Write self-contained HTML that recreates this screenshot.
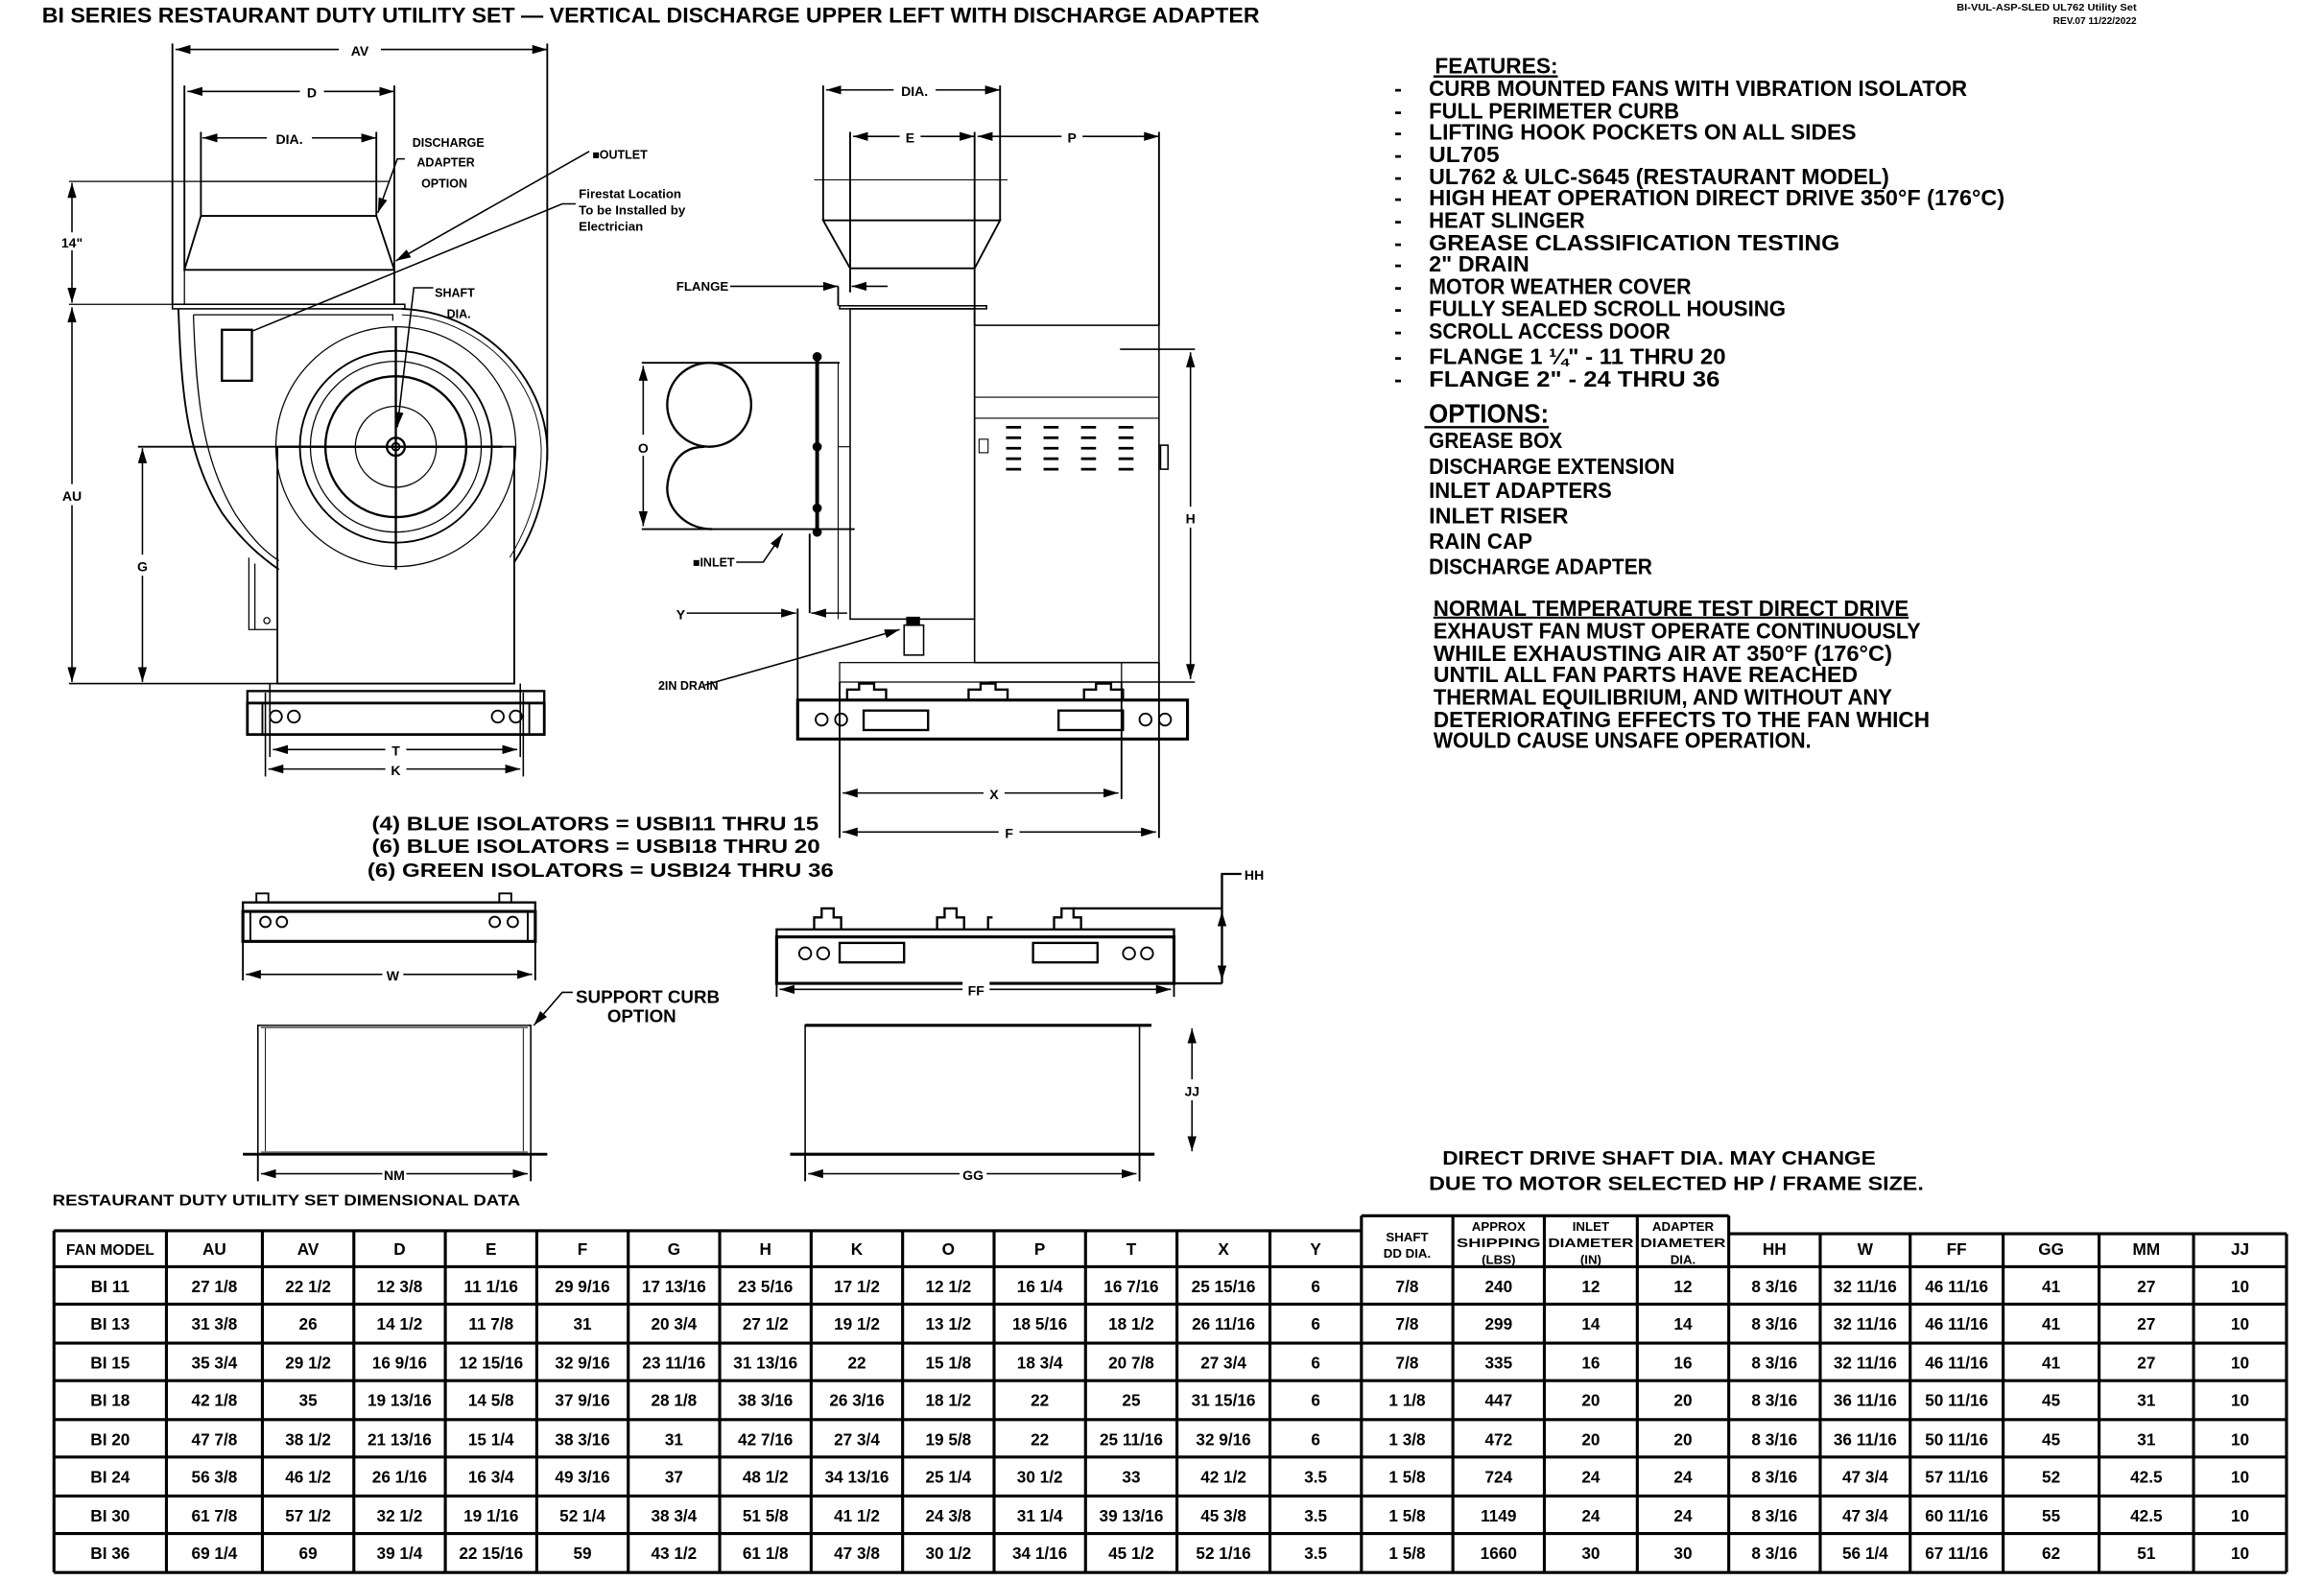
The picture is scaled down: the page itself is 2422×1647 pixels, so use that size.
<!DOCTYPE html>
<html><head><meta charset="utf-8"><style>
html,body{margin:0;padding:0;background:#fff}
svg{display:block}
text{font-family:"Liberation Sans Narrow","Liberation Sans",sans-serif;font-weight:bold;fill:#000}
.t{font-size:11px}
.f{font-size:15px}
.s{font-size:9px}
</style></head><body>
<svg width="2422" height="1647" viewBox="0 0 1550 1054" preserveAspectRatio="none" xmlns="http://www.w3.org/2000/svg">
<defs>
<marker id="a" markerWidth="10" markerHeight="6" refX="10" refY="3" orient="auto-start-reverse" markerUnits="userSpaceOnUse"><path d="M0,0 L10,3 L0,6 Z" fill="#000"/></marker>
</defs>
<rect width="1550" height="1054" fill="#fff"/>
<!-- Title -->
<text x="28" y="15" font-size="14" textLength="812" lengthAdjust="spacingAndGlyphs">BI SERIES RESTAURANT DUTY UTILITY SET — VERTICAL DISCHARGE UPPER LEFT WITH DISCHARGE ADAPTER</text>
<text x="1305" y="7" font-size="6.5" textLength="120" lengthAdjust="spacingAndGlyphs">BI-VUL-ASP-SLED UL762 Utility Set</text>
<text x="1425" y="16" font-size="6.5" text-anchor="end">REV.07 11/22/2022</text>

<!-- Features -->
<g class="f">
<text x="957" y="49" textLength="82" lengthAdjust="spacingAndGlyphs">FEATURES:</text>
<line x1="956" y1="51" x2="1039" y2="51" stroke="#000" stroke-width="1.5"/>
<text x="930" y="64">-</text><text x="953" y="64" textLength="359" lengthAdjust="spacingAndGlyphs">CURB MOUNTED FANS WITH VIBRATION ISOLATOR</text>
<text x="930" y="79">-</text><text x="953" y="79" textLength="167" lengthAdjust="spacingAndGlyphs">FULL PERIMETER CURB</text>
<text x="930" y="93">-</text><text x="953" y="93" textLength="285" lengthAdjust="spacingAndGlyphs">LIFTING HOOK POCKETS ON ALL SIDES</text>
<text x="930" y="108">-</text><text x="953" y="108" textLength="47" lengthAdjust="spacingAndGlyphs">UL705</text>
<text x="930" y="123">-</text><text x="953" y="123" textLength="307" lengthAdjust="spacingAndGlyphs">UL762 &amp; ULC-S645 (RESTAURANT MODEL)</text>
<text x="930" y="137">-</text><text x="953" y="137" textLength="384" lengthAdjust="spacingAndGlyphs">HIGH HEAT OPERATION DIRECT DRIVE 350°F (176°C)</text>
<text x="930" y="152">-</text><text x="953" y="152" textLength="104" lengthAdjust="spacingAndGlyphs">HEAT SLINGER</text>
<text x="930" y="167">-</text><text x="953" y="167" textLength="274" lengthAdjust="spacingAndGlyphs">GREASE CLASSIFICATION TESTING</text>
<text x="930" y="181">-</text><text x="953" y="181" textLength="67" lengthAdjust="spacingAndGlyphs">2" DRAIN</text>
<text x="930" y="196">-</text><text x="953" y="196" textLength="175" lengthAdjust="spacingAndGlyphs">MOTOR WEATHER COVER</text>
<text x="930" y="211">-</text><text x="953" y="211" textLength="238" lengthAdjust="spacingAndGlyphs">FULLY SEALED SCROLL HOUSING</text>
<text x="930" y="226">-</text><text x="953" y="226" textLength="161" lengthAdjust="spacingAndGlyphs">SCROLL ACCESS DOOR</text>
<text x="930" y="243">-</text><text x="953" y="243" textLength="198" lengthAdjust="spacingAndGlyphs">FLANGE 1 ¼" - 11 THRU 20</text>
<text x="930" y="258">-</text><text x="953" y="258" textLength="194" lengthAdjust="spacingAndGlyphs">FLANGE 2" - 24 THRU 36</text>
<text x="953" y="282" font-size="18" textLength="80" lengthAdjust="spacingAndGlyphs">OPTIONS:</text>
<line x1="950" y1="285" x2="1033" y2="285" stroke="#000" stroke-width="1.5"/>
<text x="953" y="299" textLength="89" lengthAdjust="spacingAndGlyphs">GREASE BOX</text>
<text x="953" y="316" textLength="164" lengthAdjust="spacingAndGlyphs">DISCHARGE EXTENSION</text>
<text x="953" y="332" textLength="122" lengthAdjust="spacingAndGlyphs">INLET ADAPTERS</text>
<text x="953" y="349" textLength="93" lengthAdjust="spacingAndGlyphs">INLET RISER</text>
<text x="953" y="366" textLength="69" lengthAdjust="spacingAndGlyphs">RAIN CAP</text>
<text x="953" y="383" textLength="149" lengthAdjust="spacingAndGlyphs">DISCHARGE ADAPTER</text>
<text x="956" y="411" textLength="317" lengthAdjust="spacingAndGlyphs">NORMAL TEMPERATURE TEST DIRECT DRIVE</text>
<line x1="956" y1="412" x2="1273" y2="412" stroke="#000" stroke-width="1.3"/>
<text x="956" y="426" textLength="325" lengthAdjust="spacingAndGlyphs">EXHAUST FAN MUST OPERATE CONTINUOUSLY</text>
<text x="956" y="441" textLength="306" lengthAdjust="spacingAndGlyphs">WHILE EXHAUSTING AIR AT 350°F (176°C)</text>
<text x="956" y="455" textLength="283" lengthAdjust="spacingAndGlyphs">UNTIL ALL FAN PARTS HAVE REACHED</text>
<text x="956" y="470" textLength="306" lengthAdjust="spacingAndGlyphs">THERMAL EQUILIBRIUM, AND WITHOUT ANY</text>
<text x="956" y="485" textLength="331" lengthAdjust="spacingAndGlyphs">DETERIORATING EFFECTS TO THE FAN WHICH</text>
<text x="956" y="499" textLength="252" lengthAdjust="spacingAndGlyphs">WOULD CAUSE UNSAFE OPERATION.</text>
<text x="962" y="777" font-size="13" textLength="289" lengthAdjust="spacingAndGlyphs">DIRECT DRIVE SHAFT DIA. MAY CHANGE</text>
<text x="953" y="794" font-size="13" textLength="330" lengthAdjust="spacingAndGlyphs">DUE TO MOTOR SELECTED HP / FRAME SIZE.</text>
<text x="248" y="554" font-size="13" textLength="298" lengthAdjust="spacingAndGlyphs">(4) BLUE ISOLATORS = USBI11 THRU 15</text>
<text x="248" y="569" font-size="13" textLength="299" lengthAdjust="spacingAndGlyphs">(6) BLUE ISOLATORS = USBI18 THRU 20</text>
<text x="245" y="585" font-size="13" textLength="311" lengthAdjust="spacingAndGlyphs">(6) GREEN ISOLATORS = USBI24 THRU 36</text>
</g>

<!-- LEFT DRAWING -->
<g stroke="#000" fill="none" stroke-width="1.2">
<line x1="117" y1="33" x2="365" y2="33" marker-start="url(#a)" marker-end="url(#a)" stroke-width="1"/>
<line x1="115" y1="29" x2="115" y2="203"/><line x1="365" y1="29" x2="365" y2="307"/>
<line x1="125" y1="61" x2="263" y2="61" marker-start="url(#a)" marker-end="url(#a)" stroke-width="1"/>
<line x1="123" y1="57" x2="123" y2="180"/><line x1="263" y1="57" x2="263" y2="203"/>
<line x1="135" y1="92" x2="251" y2="92" marker-start="url(#a)" marker-end="url(#a)" stroke-width="1"/>
<line x1="134" y1="88" x2="134" y2="144"/><line x1="251" y1="88" x2="251" y2="144"/>
<line x1="46" y1="121" x2="259" y2="121" stroke-width="0.8"/>
<line x1="48" y1="122" x2="48" y2="202" marker-start="url(#a)" marker-end="url(#a)" stroke-width="1"/>
<line x1="46" y1="203" x2="115" y2="203" stroke-width="0.8"/>
<line x1="48" y1="205" x2="48" y2="455" marker-start="url(#a)" marker-end="url(#a)" stroke-width="1"/>
<line x1="46" y1="456" x2="185" y2="456" stroke-width="1"/>
<line x1="95" y1="299" x2="95" y2="455" marker-start="url(#a)" marker-end="url(#a)" stroke-width="1"/>
<line x1="92" y1="298" x2="185" y2="298"/>
<rect x="134" y="121" width="117" height="23" stroke-width="0.8"/>
<path d="M134,144 L123,180 L263,180 L251,144"/>
<line x1="134" y1="144" x2="251" y2="144"/>
<rect x="123" y="180" width="140" height="23" stroke-width="0.8"/>
<rect x="115" y="203" width="155" height="3" stroke-width="1"/>
<path d="M119,206 C121,265 125,305 148,342 C162,362 175,372 186,380"/>
<path d="M129,210 L262,210 L262,214 M129,210 C131,270 136,308 157,343 C169,361 178,369 186,374" stroke-width="0.8"/>
<path d="M268,206 C320,208 364,250 365,300 C365,330 356,355 343,375"/>
<path d="M268,210 C318,212 360,252 361,300 C361,328 352,352 340,372" stroke-width="0.6"/>
<rect x="148" y="220" width="20" height="34" stroke-width="1.5"/>
<!-- pedestal (behind wheel) -->
<rect x="185" y="298" width="158" height="158"/>
<!-- wheel -->
<circle cx="264" cy="298" r="80" stroke-width="0.8"/>
<circle cx="264" cy="298" r="64"/>
<circle cx="264" cy="298" r="57" stroke-width="0.8"/>
<circle cx="264" cy="298" r="47" stroke-width="1.5"/>
<circle cx="264" cy="298" r="27" stroke-width="0.8"/>
<circle cx="264" cy="298" r="6" stroke-width="1.5"/>
<circle cx="264" cy="298" r="2.5"/>
<line x1="186" y1="298" x2="335" y2="298" stroke-width="1.5"/>
<line x1="264" y1="218" x2="264" y2="380" stroke-width="1.5"/>
<path d="M166,372 L166,420 L185,420 M170,376 L170,420" stroke-width="0.8"/>
<circle cx="178" cy="414" r="2" stroke-width="0.8"/>
<rect x="165" y="461" width="198" height="8" stroke-width="1.5"/>
<rect x="165" y="469" width="198" height="21" stroke-width="1.8"/>
<line x1="175" y1="469" x2="175" y2="490"/><line x1="353" y1="469" x2="353" y2="490"/>
<circle cx="184" cy="478" r="4"/><circle cx="196" cy="478" r="4"/>
<circle cx="332" cy="478" r="4"/><circle cx="344" cy="478" r="4"/>
<line x1="180" y1="456" x2="180" y2="505" stroke-width="1"/><line x1="347" y1="456" x2="347" y2="505" stroke-width="1"/>
<line x1="177" y1="462" x2="177" y2="518" stroke-width="1"/><line x1="349" y1="462" x2="349" y2="518" stroke-width="1"/>
<line x1="182" y1="500" x2="345" y2="500" marker-start="url(#a)" marker-end="url(#a)" stroke-width="1"/>
<line x1="179" y1="513" x2="347" y2="513" marker-start="url(#a)" marker-end="url(#a)" stroke-width="1"/>
<path d="M270,106 L265,106 L252,142" marker-end="url(#a)" stroke-width="1"/>
<path d="M393,101 L264,174" marker-end="url(#a)" stroke-width="1"/>
<path d="M384,136 L375,136 L168,221" stroke-width="1"/>
<path d="M289,192 L276,192 L265,285" marker-end="url(#a)" stroke-width="1"/>
</g>
<g fill="#fff">
<rect x="226" y="27" width="28" height="12"/><rect x="200" y="55" width="16" height="12"/><rect x="178" y="86" width="30" height="12"/>
<rect x="38" y="155" width="20" height="12"/><rect x="40" y="323" width="16" height="14"/><rect x="88" y="370" width="14" height="14"/>
<rect x="257" y="494" width="14" height="12"/><rect x="257" y="507" width="14" height="12"/>
</g>
<g class="s">
<text x="240" y="37" text-anchor="middle">AV</text>
<text x="208" y="65" text-anchor="middle">D</text>
<text x="193" y="96" text-anchor="middle">DIA.</text>
<text x="48" y="165" text-anchor="middle">14"</text>
<text x="48" y="334" text-anchor="middle">AU</text>
<text x="95" y="381" text-anchor="middle">G</text>
<text x="264" y="504" text-anchor="middle">T</text>
<text x="264" y="517" text-anchor="middle">K</text>
<text x="275" y="98" font-size="8">DISCHARGE</text>
<text x="278" y="111" font-size="8">ADAPTER</text>
<text x="281" y="125" font-size="8">OPTION</text>
<text x="395" y="106" font-size="8">■OUTLET</text>
<text x="386" y="132" font-size="8.5">Firestat Location</text>
<text x="386" y="143" font-size="8.5">To be Installed by</text>
<text x="386" y="154" font-size="8.5">Electrician</text>
<text x="290" y="198" font-size="8">SHAFT</text>
<text x="298" y="212" font-size="8">DIA.</text>
</g>

<!-- RIGHT DRAWING -->
<g stroke="#000" fill="none" stroke-width="1.2">
<line x1="551" y1="60" x2="667" y2="60" marker-start="url(#a)" marker-end="url(#a)" stroke-width="1"/>
<line x1="549" y1="57" x2="549" y2="147"/><line x1="667" y1="57" x2="667" y2="147"/>
<line x1="569" y1="91" x2="650" y2="91" marker-start="url(#a)" marker-end="url(#a)" stroke-width="1"/>
<line x1="652" y1="91" x2="773" y2="91" marker-start="url(#a)" marker-end="url(#a)" stroke-width="1"/>
<line x1="567" y1="88" x2="567" y2="195"/><line x1="650" y1="88" x2="650" y2="217"/><line x1="773" y1="88" x2="773" y2="217"/>
<line x1="543" y1="120" x2="672" y2="120" stroke-width="0.6"/>
<path d="M549,147 L567,179 L650,179 L667,147 Z"/>
<line x1="487" y1="191" x2="559" y2="191" marker-end="url(#a)" stroke-width="1"/>
<line x1="592" y1="191" x2="568" y2="191" marker-end="url(#a)" stroke-width="1"/>
<path d="M559,191 L559,204"/>
<rect x="560" y="204" width="98" height="2" stroke-width="1"/>
<rect x="567" y="206" width="83" height="207" stroke-width="1"/>
<rect x="650" y="217" width="123" height="225" stroke-width="1"/>
<line x1="650" y1="265" x2="773" y2="265" stroke-width="0.7"/>
<line x1="650" y1="279" x2="773" y2="279" stroke-width="0.7"/>
<line x1="567" y1="413" x2="650" y2="413" stroke-width="0.7"/>
<g stroke-width="1.8">
<path d="M671,285h10M671,292h10M671,299h10M671,306h10M671,313h10"/>
<path d="M696,285h10M696,292h10M696,299h10M696,306h10M696,313h10"/>
<path d="M721,285h10M721,292h10M721,299h10M721,306h10M721,313h10"/>
<path d="M746,285h10M746,292h10M746,299h10M746,306h10M746,313h10"/>
</g>
<rect x="774" y="297" width="5" height="16" stroke-width="1"/>
<rect x="653" y="293" width="6" height="9" stroke-width="0.7"/>
<line x1="747" y1="233" x2="797" y2="233" stroke-width="1"/>
<line x1="660" y1="455" x2="797" y2="455" stroke-width="1"/>
<line x1="794" y1="235" x2="794" y2="453" marker-start="url(#a)" marker-end="url(#a)" stroke-width="1"/>
<line x1="428" y1="242" x2="560" y2="242"/><line x1="428" y1="353" x2="570" y2="353"/>
<line x1="429" y1="244" x2="429" y2="351" marker-start="url(#a)" marker-end="url(#a)" stroke-width="1"/>
<circle cx="473" cy="270" r="28" stroke-width="1.5"/>
<path d="M470,298 C446,298 445,324 445,326 C445,340 458,353 475,353" stroke-width="1.5"/>
<line x1="545" y1="237" x2="545" y2="356" stroke-width="2.5"/>
<line x1="540" y1="356" x2="540" y2="409"/>
<circle cx="545" cy="238" r="2.5" fill="#000"/><circle cx="545" cy="298" r="2.5" fill="#000"/><circle cx="545" cy="339" r="2.5" fill="#000"/><circle cx="545" cy="355" r="2.5" fill="#000"/>
<path d="M559,242 L559,413 M559,298 L567,298" stroke-width="0.7"/>
<path d="M491,375 L509,375 L522,356" marker-end="url(#a)" stroke-width="1"/>
<line x1="458" y1="409" x2="531" y2="409" marker-end="url(#a)" stroke-width="1"/>
<line x1="565" y1="409" x2="541" y2="409" marker-end="url(#a)" stroke-width="1"/>
<line x1="532" y1="406" x2="532" y2="492"/>
<rect x="603" y="417" width="13" height="20" stroke-width="1"/><rect x="605" y="412" width="8" height="5" fill="#000"/>
<path d="M470,457 L600,420" marker-end="url(#a)" stroke-width="1"/>
<rect x="560" y="442" width="188" height="13" stroke-width="0.8"/>
<path d="M565,467 L565,460 L573,460 L573,456 L583,456 L583,460 L591,460 L591,467 M646,467 L646,460 L654,460 L654,456 L664,456 L664,460 L672,460 L672,467 M723,467 L723,460 L731,460 L731,456 L741,456 L741,460 L749,460 L749,467" stroke-width="1.5"/>
<rect x="532" y="467" width="260" height="26" stroke-width="2"/>
<circle cx="548" cy="480" r="4"/><circle cx="561" cy="480" r="4"/><circle cx="764" cy="480" r="4"/><circle cx="777" cy="480" r="4"/>
<rect x="576" y="474" width="43" height="13" stroke-width="1.5"/><rect x="706" y="474" width="43" height="13" stroke-width="1.5"/>
<line x1="560" y1="455" x2="560" y2="533"/><line x1="748" y1="455" x2="748" y2="533"/>
<line x1="773" y1="442" x2="773" y2="559"/><line x1="560" y1="533" x2="560" y2="559"/>
<line x1="562" y1="529" x2="746" y2="529" marker-start="url(#a)" marker-end="url(#a)" stroke-width="1"/>
<line x1="562" y1="555" x2="771" y2="555" marker-start="url(#a)" marker-end="url(#a)" stroke-width="1"/>
</g>
<g fill="#fff"><rect x="596" y="54" width="28" height="12"/><rect x="600" y="85" width="14" height="12"/><rect x="708" y="85" width="14" height="12"/><rect x="423" y="290" width="12" height="14"/><rect x="787" y="338" width="14" height="14"/><rect x="656" y="523" width="14" height="12"/><rect x="666" y="549" width="14" height="12"/></g>
<g class="s">
<text x="610" y="64" text-anchor="middle">DIA.</text>
<text x="607" y="95" text-anchor="middle">E</text>
<text x="715" y="95" text-anchor="middle">P</text>
<text x="429" y="302" text-anchor="middle">O</text>
<text x="794" y="349" text-anchor="middle">H</text>
<text x="663" y="533" text-anchor="middle">X</text>
<text x="673" y="559" text-anchor="middle">F</text>
<text x="451" y="194" font-size="8.5">FLANGE</text>
<text x="462" y="378" font-size="8">■INLET</text>
<text x="451" y="413">Y</text>
<text x="439" y="460" font-size="8">2IN DRAIN</text>
</g>

<!-- BOTTOM DRAWINGS -->
<g stroke="#000" fill="none" stroke-width="1.2">
<path d="M171,602 L171,596 L179,596 L179,602 M333,602 L333,596 L341,596 L341,602" stroke-width="1.2"/>
<rect x="162" y="602" width="195" height="6" stroke-width="1.5"/>
<rect x="162" y="608" width="195" height="20" stroke-width="2"/>
<line x1="167" y1="608" x2="167" y2="628"/><line x1="352" y1="608" x2="352" y2="628"/>
<circle cx="177" cy="615" r="3.5"/><circle cx="188" cy="615" r="3.5"/><circle cx="330" cy="615" r="3.5"/><circle cx="342" cy="615" r="3.5"/>
<line x1="162" y1="628" x2="162" y2="654"/><line x1="357" y1="628" x2="357" y2="654"/>
<line x1="164" y1="650" x2="355" y2="650" marker-start="url(#a)" marker-end="url(#a)" stroke-width="1"/>
<rect x="172" y="684" width="182" height="86" stroke-width="1"/>
<line x1="174" y1="685" x2="352" y2="685" stroke="#777" stroke-width="2"/>
<line x1="174" y1="769" x2="352" y2="769" stroke="#777" stroke-width="2"/>
<line x1="177" y1="686" x2="177" y2="768" stroke-width="0.6"/><line x1="349" y1="686" x2="349" y2="768" stroke-width="0.6"/>
<line x1="162" y1="770" x2="365" y2="770" stroke-width="1.8"/>
<line x1="172" y1="770" x2="172" y2="788"/><line x1="354" y1="770" x2="354" y2="788"/>
<line x1="174" y1="783" x2="352" y2="783" marker-start="url(#a)" marker-end="url(#a)" stroke-width="1"/>
<path d="M382,662 L375,662 L356,684" marker-end="url(#a)" stroke-width="1"/>
<path d="M543,620 L543,612 L548,612 L548,606 L556,606 L556,612 L561,612 L561,620 M625,620 L625,612 L630,612 L630,606 L638,606 L638,612 L643,612 L643,620 M703,620 L703,612 L708,612 L708,606 L716,606 L716,612 L721,612 L721,620 M659,620 L659,612 L662,612" stroke-width="1.5"/>
<rect x="518" y="620" width="265" height="5" stroke-width="1.5"/>
<rect x="518" y="625" width="265" height="31" stroke-width="2"/>
<circle cx="537" cy="636" r="4"/><circle cx="549" cy="636" r="4"/><circle cx="753" cy="636" r="4"/><circle cx="765" cy="636" r="4"/>
<rect x="560" y="629" width="43" height="13" stroke-width="1.5"/><rect x="689" y="629" width="43" height="13" stroke-width="1.5"/>
<line x1="716" y1="606" x2="815" y2="606" stroke-width="1.5"/>
<line x1="783" y1="656" x2="815" y2="656" stroke-width="1.5"/>
<path d="M828,583 L815,583 L815,656" stroke-width="1.5"/>
<line x1="815" y1="608" x2="815" y2="654" marker-start="url(#a)" marker-end="url(#a)" stroke-width="1"/>
<line x1="518" y1="656" x2="518" y2="665"/><line x1="783" y1="656" x2="783" y2="665"/>
<line x1="520" y1="660" x2="781" y2="660" marker-start="url(#a)" marker-end="url(#a)" stroke-width="1"/>
<line x1="537" y1="684" x2="768" y2="684" stroke-width="2"/>
<rect x="537" y="684" width="223" height="86" stroke-width="1"/>
<line x1="527" y1="770" x2="770" y2="770" stroke-width="2"/>
<line x1="537" y1="770" x2="537" y2="788"/><line x1="760" y1="770" x2="760" y2="788"/>
<line x1="539" y1="783" x2="758" y2="783" marker-start="url(#a)" marker-end="url(#a)" stroke-width="1"/>
<line x1="795" y1="686" x2="795" y2="768" marker-start="url(#a)" marker-end="url(#a)" stroke-width="1"/>
</g>
<g fill="#fff"><rect x="255" y="644" width="14" height="12"/><rect x="642" y="654" width="18" height="12"/><rect x="255" y="777" width="16" height="12"/><rect x="640" y="777" width="18" height="12"/><rect x="788" y="720" width="14" height="14"/></g>
<g class="s">
<text x="262" y="654" text-anchor="middle">W</text>
<text x="651" y="664" text-anchor="middle">FF</text>
<text x="263" y="787" text-anchor="middle">NM</text>
<text x="649" y="787" text-anchor="middle">GG</text>
<text x="795" y="731" text-anchor="middle">JJ</text>
<text x="830" y="587">HH</text>
<text x="384" y="669" font-size="12">SUPPORT CURB</text>
<text x="405" y="682" font-size="12">OPTION</text>
</g>

<!-- TABLE -->
<text x="35" y="804" font-size="10" textLength="312" lengthAdjust="spacingAndGlyphs">RESTAURANT DUTY UTILITY SET DIMENSIONAL DATA</text>
<g stroke="#000" stroke-width="2" fill="none">
<line x1="36" y1="821" x2="908" y2="821"/>
<line x1="908" y1="811" x2="1153" y2="811"/>
<line x1="1153" y1="823" x2="1525" y2="823"/>
<line x1="36" y1="845" x2="1525" y2="845"/>
<line x1="36" y1="870" x2="1525" y2="870"/>
<line x1="36" y1="896" x2="1525" y2="896"/>
<line x1="36" y1="921" x2="1525" y2="921"/>
<line x1="36" y1="947" x2="1525" y2="947"/>
<line x1="36" y1="972" x2="1525" y2="972"/>
<line x1="36" y1="998" x2="1525" y2="998"/>
<line x1="36" y1="1023" x2="1525" y2="1023"/>
<line x1="36" y1="1049" x2="1525" y2="1049"/>
<path d="M36,821V1049M111,821V1049M175,821V1049M236,821V1049M297,821V1049M358,821V1049M419,821V1049M480,821V1049M541,821V1049M602,821V1049M663,821V1049M724,821V1049M785,821V1049M847,821V1049M908,811V1049M969,811V1049M1030,811V1049M1092,811V1049M1153,811V1049M1214,823V1049M1274,823V1049M1336,823V1049M1400,823V1049M1463,823V1049M1525,823V1049"/>
</g>
<g class="t" text-anchor="middle">
<g transform="translate(0,837)">
<text x="73.5" font-size="10">FAN MODEL</text><text x="143">AU</text><text x="205.5">AV</text><text x="266.5">D</text><text x="327.5">E</text><text x="388.5">F</text><text x="449.5">G</text><text x="510.5">H</text><text x="571.5">K</text><text x="632.5">O</text><text x="693.5">P</text><text x="754.5">T</text><text x="816">X</text><text x="877.5">Y</text>
<text x="1183.5">HH</text><text x="1244">W</text><text x="1305">FF</text><text x="1368">GG</text><text x="1431.5">MM</text><text x="1494">JJ</text>
</g>
<g font-size="8.5">
<text x="938.5" y="828">SHAFT</text><text x="938.5" y="839">DD DIA.</text>
<text x="999.5" y="821">APPROX</text><text x="999.5" y="832" textLength="56" lengthAdjust="spacingAndGlyphs">SHIPPING</text><text x="999.5" y="843">(LBS)</text>
<text x="1061" y="821">INLET</text><text x="1061" y="832" textLength="57" lengthAdjust="spacingAndGlyphs">DIAMETER</text><text x="1061" y="843">(IN)</text>
<text x="1122.5" y="821">ADAPTER</text><text x="1122.5" y="832" textLength="57" lengthAdjust="spacingAndGlyphs">DIAMETER</text><text x="1122.5" y="843">DIA.</text>
</g>
<g transform="translate(0,862)"><text x="73.5">BI 11</text><text x="143">27 1/8</text><text x="205.5">22 1/2</text><text x="266.5">12 3/8</text><text x="327.5">11 1/16</text><text x="388.5">29 9/16</text><text x="449.5">17 13/16</text><text x="510.5">23 5/16</text><text x="571.5">17 1/2</text><text x="632.5">12 1/2</text><text x="693.5">16 1/4</text><text x="754.5">16 7/16</text><text x="816">25 15/16</text><text x="877.5">6</text><text x="938.5">7/8</text><text x="999.5">240</text><text x="1061">12</text><text x="1122.5">12</text><text x="1183.5">8 3/16</text><text x="1244">32 11/16</text><text x="1305">46 11/16</text><text x="1368">41</text><text x="1431.5">27</text><text x="1494">10</text></g>
<g transform="translate(0,887)"><text x="73.5">BI 13</text><text x="143">31 3/8</text><text x="205.5">26</text><text x="266.5">14 1/2</text><text x="327.5">11 7/8</text><text x="388.5">31</text><text x="449.5">20 3/4</text><text x="510.5">27 1/2</text><text x="571.5">19 1/2</text><text x="632.5">13 1/2</text><text x="693.5">18 5/16</text><text x="754.5">18 1/2</text><text x="816">26 11/16</text><text x="877.5">6</text><text x="938.5">7/8</text><text x="999.5">299</text><text x="1061">14</text><text x="1122.5">14</text><text x="1183.5">8 3/16</text><text x="1244">32 11/16</text><text x="1305">46 11/16</text><text x="1368">41</text><text x="1431.5">27</text><text x="1494">10</text></g>
<g transform="translate(0,913)"><text x="73.5">BI 15</text><text x="143">35 3/4</text><text x="205.5">29 1/2</text><text x="266.5">16 9/16</text><text x="327.5">12 15/16</text><text x="388.5">32 9/16</text><text x="449.5">23 11/16</text><text x="510.5">31 13/16</text><text x="571.5">22</text><text x="632.5">15 1/8</text><text x="693.5">18 3/4</text><text x="754.5">20 7/8</text><text x="816">27 3/4</text><text x="877.5">6</text><text x="938.5">7/8</text><text x="999.5">335</text><text x="1061">16</text><text x="1122.5">16</text><text x="1183.5">8 3/16</text><text x="1244">32 11/16</text><text x="1305">46 11/16</text><text x="1368">41</text><text x="1431.5">27</text><text x="1494">10</text></g>
<g transform="translate(0,938)"><text x="73.5">BI 18</text><text x="143">42 1/8</text><text x="205.5">35</text><text x="266.5">19 13/16</text><text x="327.5">14 5/8</text><text x="388.5">37 9/16</text><text x="449.5">28 1/8</text><text x="510.5">38 3/16</text><text x="571.5">26 3/16</text><text x="632.5">18 1/2</text><text x="693.5">22</text><text x="754.5">25</text><text x="816">31 15/16</text><text x="877.5">6</text><text x="938.5">1 1/8</text><text x="999.5">447</text><text x="1061">20</text><text x="1122.5">20</text><text x="1183.5">8 3/16</text><text x="1244">36 11/16</text><text x="1305">50 11/16</text><text x="1368">45</text><text x="1431.5">31</text><text x="1494">10</text></g>
<g transform="translate(0,964)"><text x="73.5">BI 20</text><text x="143">47 7/8</text><text x="205.5">38 1/2</text><text x="266.5">21 13/16</text><text x="327.5">15 1/4</text><text x="388.5">38 3/16</text><text x="449.5">31</text><text x="510.5">42 7/16</text><text x="571.5">27 3/4</text><text x="632.5">19 5/8</text><text x="693.5">22</text><text x="754.5">25 11/16</text><text x="816">32 9/16</text><text x="877.5">6</text><text x="938.5">1 3/8</text><text x="999.5">472</text><text x="1061">20</text><text x="1122.5">20</text><text x="1183.5">8 3/16</text><text x="1244">36 11/16</text><text x="1305">50 11/16</text><text x="1368">45</text><text x="1431.5">31</text><text x="1494">10</text></g>
<g transform="translate(0,989)"><text x="73.5">BI 24</text><text x="143">56 3/8</text><text x="205.5">46 1/2</text><text x="266.5">26 1/16</text><text x="327.5">16 3/4</text><text x="388.5">49 3/16</text><text x="449.5">37</text><text x="510.5">48 1/2</text><text x="571.5">34 13/16</text><text x="632.5">25 1/4</text><text x="693.5">30 1/2</text><text x="754.5">33</text><text x="816">42 1/2</text><text x="877.5">3.5</text><text x="938.5">1 5/8</text><text x="999.5">724</text><text x="1061">24</text><text x="1122.5">24</text><text x="1183.5">8 3/16</text><text x="1244">47 3/4</text><text x="1305">57 11/16</text><text x="1368">52</text><text x="1431.5">42.5</text><text x="1494">10</text></g>
<g transform="translate(0,1015)"><text x="73.5">BI 30</text><text x="143">61 7/8</text><text x="205.5">57 1/2</text><text x="266.5">32 1/2</text><text x="327.5">19 1/16</text><text x="388.5">52 1/4</text><text x="449.5">38 3/4</text><text x="510.5">51 5/8</text><text x="571.5">41 1/2</text><text x="632.5">24 3/8</text><text x="693.5">31 1/4</text><text x="754.5">39 13/16</text><text x="816">45 3/8</text><text x="877.5">3.5</text><text x="938.5">1 5/8</text><text x="999.5">1149</text><text x="1061">24</text><text x="1122.5">24</text><text x="1183.5">8 3/16</text><text x="1244">47 3/4</text><text x="1305">60 11/16</text><text x="1368">55</text><text x="1431.5">42.5</text><text x="1494">10</text></g>
<g transform="translate(0,1040)"><text x="73.5">BI 36</text><text x="143">69 1/4</text><text x="205.5">69</text><text x="266.5">39 1/4</text><text x="327.5">22 15/16</text><text x="388.5">59</text><text x="449.5">43 1/2</text><text x="510.5">61 1/8</text><text x="571.5">47 3/8</text><text x="632.5">30 1/2</text><text x="693.5">34 1/16</text><text x="754.5">45 1/2</text><text x="816">52 1/16</text><text x="877.5">3.5</text><text x="938.5">1 5/8</text><text x="999.5">1660</text><text x="1061">30</text><text x="1122.5">30</text><text x="1183.5">8 3/16</text><text x="1244">56 1/4</text><text x="1305">67 11/16</text><text x="1368">62</text><text x="1431.5">51</text><text x="1494">10</text></g>
</g>
</svg>
</body></html>
